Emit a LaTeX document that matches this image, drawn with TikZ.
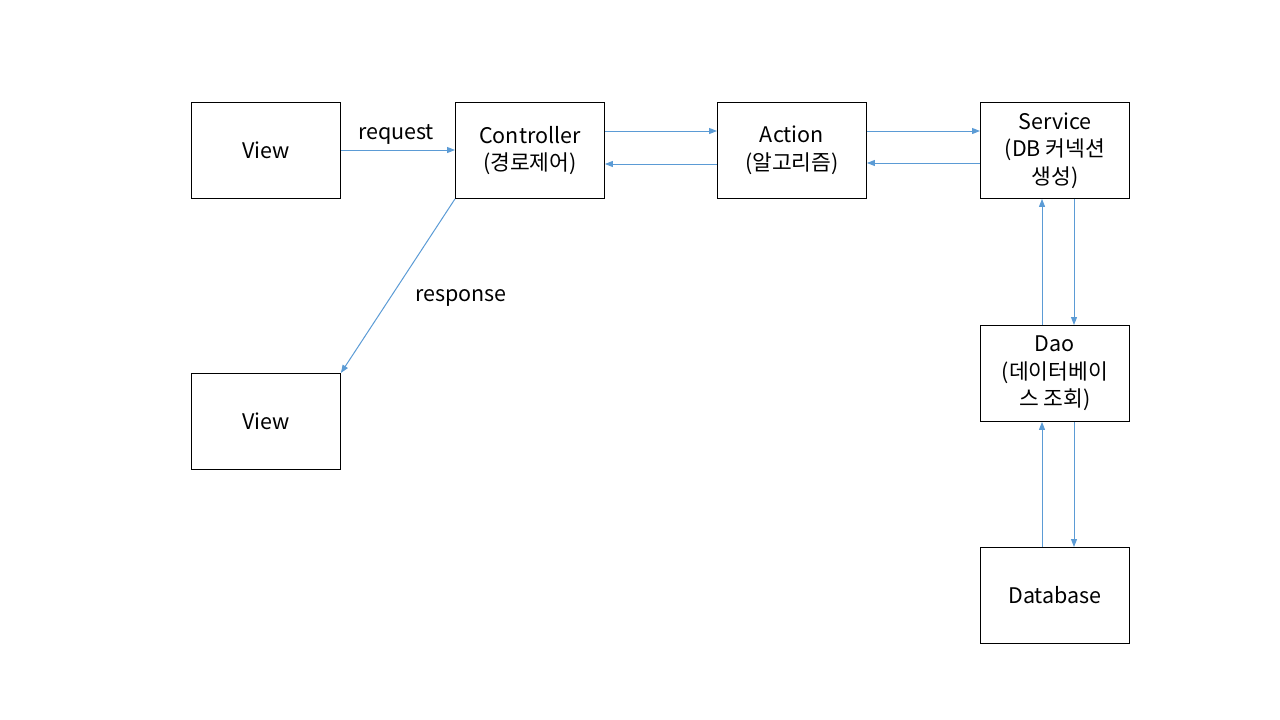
\documentclass[tikz,border=0pt]{standalone}
\usepackage{fontspec}
\setmainfont{Noto Sans CJK KR}
\usetikzlibrary{arrows.meta}
\definecolor{conn}{HTML}{5B9BD5}
\begin{document}
\begin{tikzpicture}[x=1pt,y=-1pt,
  box/.style={draw=black,line width=0.9pt,minimum width=149pt,minimum height=96pt,inner sep=0pt,align=center,font=\fontsize{21.5}{27.5}\selectfont,anchor=north west},
  link/.style={draw=conn,line width=1pt,-{Triangle[length=8pt,width=6pt]}},
  lbl/.style={font=\fontsize{21.5}{25}\selectfont}]
\useasboundingbox (0,0) rectangle (1280,720);
\node[box] (v1) at (191,102) {View};
\node[box] (ctl) at (455,102) {Controller\\(경로제어)};
\node[box] (act) at (717,102) {Action\\(알고리즘)};
\node[box] (svc) at (980,102) {Service\\(DB 커넥션\\생성)};
\node[box] (v2) at (191,373) {View};
\node[box] (dao) at (980,325) {Dao\\(데이터베이\\스 조회)};
\node[box] (db) at (980,547) {Database};
\draw[link] (v1.east |- 0,150) -- (ctl.west |- 0,150);
\draw[link] (ctl.east |- 0,131) -- (act.west |- 0,131);
\draw[link] (act.west |- 0,164) -- (ctl.east |- 0,164);
\draw[link] (act.east |- 0,131) -- (svc.west |- 0,131);
\draw[link] (svc.west |- 0,163) -- (act.east |- 0,163);
\draw[link] (svc.south -| 1074,0) -- (dao.north -| 1074,0);
\draw[link] (dao.north -| 1042,0) -- (svc.south -| 1042,0);
\draw[link] (dao.south -| 1074,0) -- (db.north -| 1074,0);
\draw[link] (db.north -| 1042,0) -- (dao.south -| 1042,0);
\draw[link] (ctl.south west) -- (v2.north east);
\node[lbl] (req) at (396,134) {request};
\node[lbl] (resp) at (461,298) {response};
\end{tikzpicture}
\end{document}
